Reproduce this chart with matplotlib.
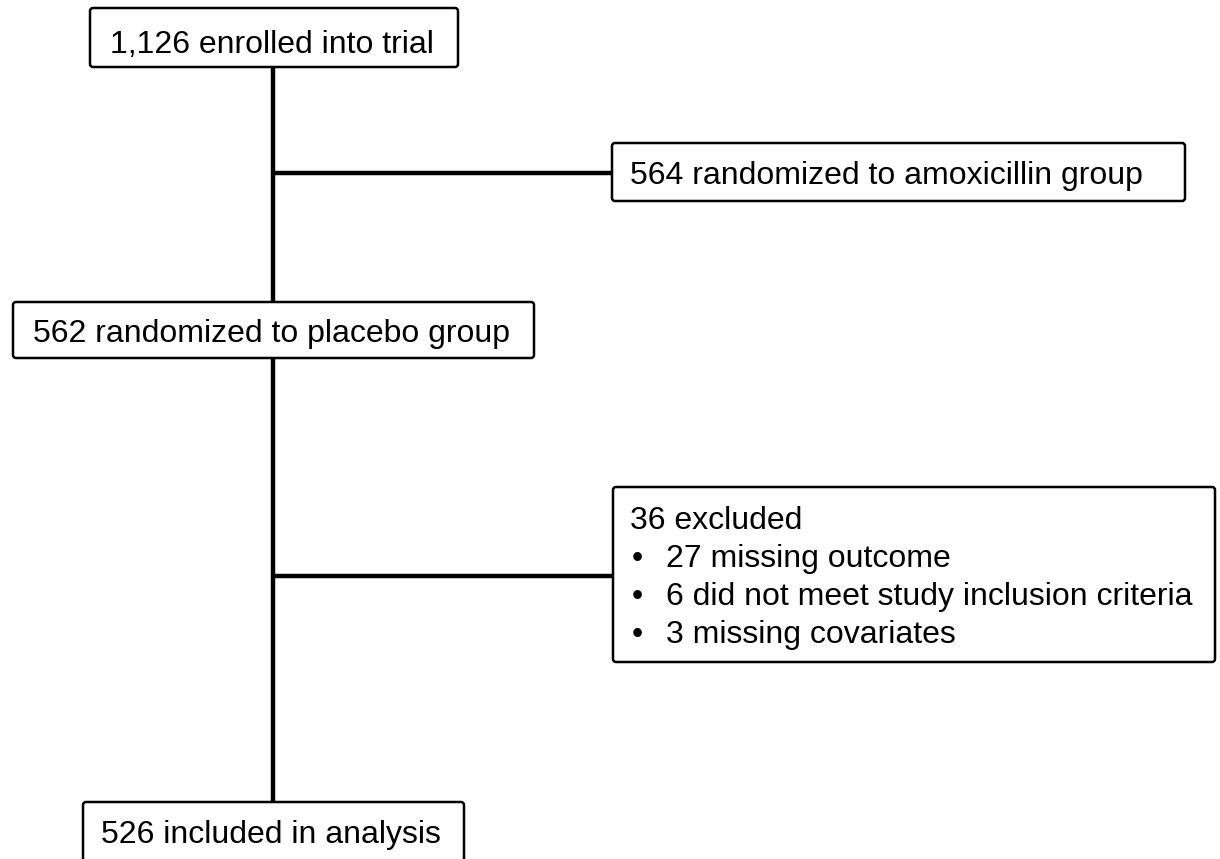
import matplotlib.pyplot as plt
from matplotlib.patches import FancyBboxPatch

# --- content ---------------------------------------------------------------
enrolled = "1,126 enrolled into trial"
amox = "564 randomized to amoxicillin group"
placebo = "562 randomized to placebo group"
excl_head = "36 excluded"
excl_items = ["27 missing outcome",
              "6 did not meet study inclusion criteria",
              "3 missing covariates"]
included = "526 included in analysis"

# --- layout (pixel coords, y down) -----------------------------------------
W, H = 1220, 859
FS = 23
FONT = ["Liberation Sans", "DejaVu Sans"]

fig = plt.figure(figsize=(W / 100, H / 100), dpi=100)
ax = fig.add_axes([0, 0, 1, 1])
ax.set_xlim(0, W)
ax.set_ylim(H, 0)
ax.axis("off")

def box(x0, y0, x1, y1):
    p = FancyBboxPatch((x0, y0), x1 - x0, y1 - y0,
                       boxstyle="round,pad=0,rounding_size=3",
                       facecolor="white", edgecolor="black", linewidth=1.8,
                       zorder=3)
    ax.add_patch(p)

def line(xs, ys):
    ax.plot(xs, ys, color="black", linewidth=3.2, solid_capstyle="butt", zorder=2)

def label(x, y, s, ha="left", fs=FS):
    ax.text(x, y, s, ha=ha, va="baseline", fontsize=fs, family=FONT, zorder=4)

spine_x = 273
line([spine_x, spine_x], [67, 302])
line([spine_x, spine_x], [358, 802])
line([spine_x, 612], [173, 173])
line([spine_x, 612], [576, 576])

box(90, 8, 458, 67)
label(272, 53, enrolled, ha="center")

box(612, 143, 1185, 201)
label(630, 184, amox)

box(13, 302, 534, 358)
label(33, 342, placebo)

box(613, 487, 1215, 662)
label(630, 529, excl_head)
for i, item in enumerate(excl_items):
    y = 567 + i * 38
    label(632, y, "\u2022")
    label(666, y, item)

box(83, 802, 464, 880)
label(101, 843, included)

fig.savefig("out.png", dpi=100, facecolor="white")
